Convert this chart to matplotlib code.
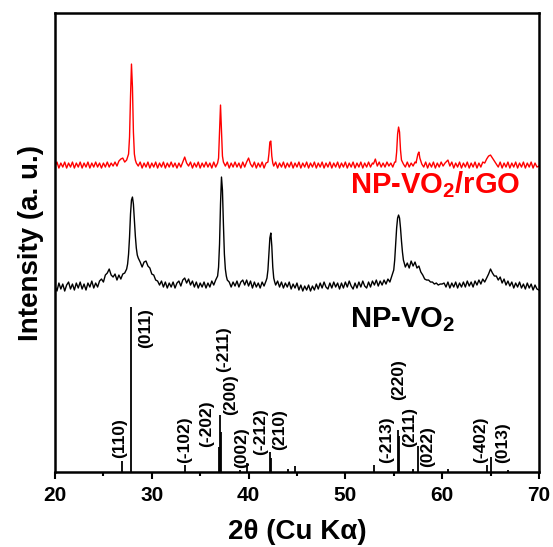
import numpy as np
import matplotlib
matplotlib.use("Agg")
import matplotlib.pyplot as plt
from matplotlib.ticker import MultipleLocator

plt.rcParams.update({
    'font.family': ['Liberation Sans', 'DejaVu Sans'],
    'font.weight': 'bold',
    'mathtext.fontset': 'custom',
    'mathtext.rm': 'Liberation Sans:bold',
    'mathtext.it': 'Liberation Sans:bold',
    'mathtext.bf': 'Liberation Sans:bold',
})

# NP-VO2 pattern (black), offset already included
black_2theta = [
    20.0, 20.2, 20.4, 20.6, 20.8, 21.0, 21.2, 21.4, 21.6, 21.8, 22.0, 22.2, 22.4, 22.6, 22.8,
    23.0, 23.2, 23.4, 23.6, 23.8, 24.0, 24.2, 24.4, 24.6, 24.8, 25.0, 25.2, 25.4, 25.6, 25.8,
    26.0, 26.2, 26.4, 26.6, 26.8, 27.0, 27.2, 27.4, 27.5, 27.6, 27.7, 27.8, 27.9, 28.0, 28.1,
    28.2, 28.3, 28.4, 28.5, 28.6, 28.8, 29.0, 29.2, 29.4, 29.6, 29.8, 30.0, 30.2, 30.4, 30.6,
    30.8, 31.0, 31.2, 31.4, 31.6, 31.8, 32.0, 32.2, 32.4, 32.6, 32.8, 33.0, 33.2, 33.4, 33.6,
    33.8, 34.0, 34.2, 34.4, 34.6, 34.8, 35.0, 35.2, 35.4, 35.6, 35.8, 36.0, 36.2, 36.4, 36.6,
    36.8, 36.9, 37.0, 37.1, 37.2, 37.3, 37.4, 37.5, 37.6, 37.7, 37.8, 38.0, 38.2, 38.4, 38.6,
    38.8, 39.0, 39.2, 39.4, 39.6, 39.8, 40.0, 40.2, 40.4, 40.6, 40.8, 41.0, 41.2, 41.4, 41.6,
    41.8, 41.9, 42.0, 42.1, 42.2, 42.3, 42.4, 42.5, 42.6, 42.7, 42.8, 43.0, 43.2, 43.4, 43.6,
    43.8, 44.0, 44.2, 44.4, 44.6, 44.8, 45.0, 45.2, 45.4, 45.6, 45.8, 46.0, 46.2, 46.4, 46.6,
    46.8, 47.0, 47.2, 47.4, 47.6, 47.8, 48.0, 48.2, 48.4, 48.6, 48.8, 49.0, 49.2, 49.4, 49.6,
    49.8, 50.0, 50.2, 50.4, 50.6, 50.8, 51.0, 51.2, 51.4, 51.6, 51.8, 52.0, 52.2, 52.4, 52.6,
    52.8, 53.0, 53.2, 53.4, 53.6, 53.8, 54.0, 54.2, 54.4, 54.6, 54.8, 55.0, 55.1, 55.2, 55.3,
    55.4, 55.5, 55.6, 55.7, 55.8, 55.9, 56.0, 56.2, 56.4, 56.6, 56.8, 57.0, 57.2, 57.4, 57.6,
    57.8, 58.0, 58.2, 58.4, 58.6, 58.8, 59.0, 59.2, 59.4, 59.6, 59.8, 60.0, 60.2, 60.4, 60.6,
    60.8, 61.0, 61.2, 61.4, 61.6, 61.8, 62.0, 62.2, 62.4, 62.6, 62.8, 63.0, 63.2, 63.4, 63.6,
    63.8, 64.0, 64.2, 64.4, 64.6, 64.8, 65.0, 65.1, 65.2, 65.4, 65.6, 65.8, 66.0, 66.2, 66.4,
    66.6, 66.8, 67.0, 67.2, 67.4, 67.6, 67.8, 68.0, 68.2, 68.4, 68.6, 68.8, 69.0, 69.2, 69.4,
    69.6, 69.8, 70.0,
]
black_int = [
    186, 181, 189, 183, 188, 181, 187, 190, 183, 188, 182, 189, 184, 190, 183,
    188, 182, 189, 185, 191, 184, 189, 185, 191, 193, 190, 197, 199, 203, 197,
    195, 198, 192, 197, 193, 198, 199, 203, 208, 218, 235, 258, 272, 275, 268,
    252, 236, 224, 217, 214, 210, 205, 210, 211, 206, 204, 198, 197, 192, 191,
    187, 191, 185, 190, 184, 189, 185, 190, 184, 189, 191, 186, 192, 194, 189,
    193, 187, 191, 185, 190, 184, 189, 185, 190, 184, 189, 185, 191, 187, 192,
    196, 205, 228, 268, 295, 282, 248, 218, 203, 196, 192, 190, 185, 190, 186,
    191, 185, 190, 192, 187, 192, 186, 191, 184, 190, 185, 189, 184, 190, 186,
    191, 194, 202, 218, 234, 239, 226, 205, 194, 190, 187, 191, 185, 190, 184,
    189, 185, 190, 183, 188, 184, 189, 182, 187, 181, 186, 182, 187, 181, 186,
    182, 188, 183, 189, 184, 190, 185, 183, 189, 184, 190, 185, 189, 183, 189,
    184, 190, 185, 191, 186, 183, 189, 184, 190, 185, 191, 186, 184, 190, 185,
    191, 187, 192, 186, 191, 187, 192, 188, 193, 190, 196, 202, 212, 228, 244,
    254, 257, 254, 244, 231, 220, 212, 205, 209, 204, 211, 206, 210, 204, 206,
    200, 197, 193, 192, 192, 190, 190, 188, 189, 187, 188, 188, 189, 185, 190,
    184, 189, 185, 190, 184, 189, 185, 190, 185, 191, 186, 190, 185, 191, 187,
    192, 188, 193, 190, 194, 198, 203, 201, 199, 196, 196, 192, 195, 189, 193,
    187, 191, 186, 190, 184, 189, 185, 190, 184, 188, 183, 189, 184, 188, 182,
    187, 183, 182,
]

# NP-VO2/rGO pattern (red), offset already included
red_2theta = [
    20.0, 20.2, 20.4, 20.6, 20.8, 21.0, 21.2, 21.4, 21.6, 21.8, 22.0, 22.2, 22.4, 22.6, 22.8,
    23.0, 23.2, 23.4, 23.6, 23.8, 24.0, 24.2, 24.4, 24.6, 24.8, 25.0, 25.2, 25.4, 25.6, 25.8,
    26.0, 26.2, 26.4, 26.6, 26.8, 27.0, 27.2, 27.4, 27.6, 27.7, 27.8, 27.9, 28.0, 28.1, 28.2,
    28.3, 28.4, 28.6, 28.8, 29.0, 29.2, 29.4, 29.6, 29.8, 30.0, 30.2, 30.4, 30.6, 30.8, 31.0,
    31.2, 31.4, 31.6, 31.8, 32.0, 32.2, 32.4, 32.6, 32.8, 33.0, 33.2, 33.4, 33.6, 33.8, 34.0,
    34.2, 34.4, 34.6, 34.8, 35.0, 35.2, 35.4, 35.6, 35.8, 36.0, 36.2, 36.4, 36.6, 36.8, 36.9,
    37.0, 37.1, 37.2, 37.3, 37.4, 37.6, 37.8, 38.0, 38.2, 38.4, 38.6, 38.8, 39.0, 39.2, 39.4,
    39.6, 39.8, 40.0, 40.2, 40.4, 40.6, 40.8, 41.0, 41.2, 41.4, 41.6, 41.8, 42.0, 42.1, 42.2,
    42.3, 42.4, 42.5, 42.6, 42.8, 43.0, 43.2, 43.4, 43.6, 43.8, 44.0, 44.2, 44.4, 44.6, 44.8,
    45.0, 45.2, 45.4, 45.6, 45.8, 46.0, 46.2, 46.4, 46.6, 46.8, 47.0, 47.2, 47.4, 47.6, 47.8,
    48.0, 48.2, 48.4, 48.6, 48.8, 49.0, 49.2, 49.4, 49.6, 49.8, 50.0, 50.2, 50.4, 50.6, 50.8,
    51.0, 51.2, 51.4, 51.6, 51.8, 52.0, 52.2, 52.4, 52.6, 52.8, 52.9, 53.1, 53.3, 53.5, 53.7,
    53.9, 54.1, 54.3, 54.5, 54.7, 54.9, 55.1, 55.2, 55.3, 55.4, 55.5, 55.6, 55.7, 55.8, 56.0,
    56.2, 56.4, 56.6, 56.8, 57.0, 57.2, 57.3, 57.5, 57.6, 57.7, 57.9, 58.1, 58.3, 58.5, 58.7,
    58.9, 59.1, 59.3, 59.5, 59.7, 59.9, 60.1, 60.3, 60.6, 60.8, 61.0, 61.2, 61.4, 61.6, 61.8,
    62.0, 62.2, 62.4, 62.6, 62.8, 63.0, 63.2, 63.4, 63.6, 63.8, 64.0, 64.2, 64.4, 64.6, 64.8,
    65.0, 65.2, 65.4, 65.6, 65.8, 66.0, 66.2, 66.4, 66.6, 66.8, 67.0, 67.2, 67.4, 67.6, 67.8,
    68.0, 68.2, 68.4, 68.6, 68.8, 69.0, 69.2, 69.4, 69.6, 69.8, 70.0,
]
red_int = [
    306, 310, 304, 309, 305, 310, 304, 309, 305, 310, 304, 309, 305, 310, 304,
    309, 305, 310, 304, 309, 305, 310, 305, 309, 304, 309, 305, 310, 305, 309,
    306, 310, 306, 311, 313, 314, 310, 312, 318, 335, 375, 408, 385, 340, 318,
    312, 309, 306, 310, 304, 309, 305, 310, 304, 309, 305, 310, 304, 309, 305,
    310, 304, 309, 305, 310, 305, 309, 304, 309, 305, 310, 315, 309, 306, 310,
    304, 309, 305, 310, 304, 309, 305, 310, 305, 309, 304, 310, 305, 309, 314,
    340, 367, 342, 316, 310, 306, 310, 304, 309, 305, 310, 305, 309, 304, 310,
    305, 310, 314, 308, 305, 310, 304, 309, 305, 310, 304, 309, 310, 318, 330,
    331, 316, 309, 306, 310, 304, 309, 305, 310, 304, 309, 305, 310, 304, 309,
    305, 310, 304, 309, 305, 310, 304, 309, 305, 310, 304, 309, 305, 310, 304,
    309, 305, 310, 304, 309, 305, 310, 304, 309, 305, 310, 304, 309, 305, 310,
    304, 309, 305, 310, 304, 309, 305, 310, 305, 309, 308, 313, 306, 310, 305,
    309, 305, 310, 306, 309, 305, 310, 310, 320, 338, 345, 340, 322, 312, 308,
    305, 310, 305, 309, 306, 310, 309, 318, 320, 314, 308, 305, 310, 304, 309,
    305, 310, 304, 309, 305, 310, 306, 309, 312, 306, 310, 304, 309, 305, 310,
    304, 309, 305, 310, 304, 309, 305, 310, 304, 309, 305, 310, 309, 313, 316,
    317, 314, 311, 308, 305, 310, 304, 309, 305, 310, 304, 309, 305, 310, 304,
    309, 305, 310, 304, 309, 305, 310, 304, 309, 305, 306,
]

# reference stick pattern
stick_2theta = [26.9, 27.85, 33.4, 36.95, 37.05, 37.2, 39.1, 39.8, 42.2, 42.3, 44.1, 44.8,
                52.96, 55.4, 55.55, 57.0, 57.53, 60.6, 64.6, 65.0, 66.8]
stick_height = [11, 165, 7, 25, 57, 40, 2, 9, 20, 14, 3, 6,
                7, 42, 36, 3, 26, 3, 7, 15, 2]

# Miller index labels: (text, x position, y of label bottom)
hkl_text = ["(110)", "(011)", "(-102)", "(-202)", "(200)", "(-211)", "(002)", "(-212)",
            "(210)", "(-213)", "(220)", "(211)", "(022)", "(-402)", "(013)"]
hkl_x = [26.7, 29.4, 33.4, 35.7, 38.1, 37.4, 39.3, 41.25, 43.2, 54.26, 55.47, 56.67,
         58.46, 63.97, 66.3]
hkl_y = [14, 124, 9, 25, 57, 100, 4, 17, 22, 9, 72, 25, 5, 9, 9]

fig = plt.figure(figsize=(5.53, 5.47), dpi=100)
ax = fig.add_axes([0.0995, 0.1371, 0.875, 0.839])

ax.plot(black_2theta, black_int, color="black", lw=1.0)
ax.plot(red_2theta, red_int, color="red", lw=1.0)
ax.vlines(stick_2theta, 0, stick_height, color="black", lw=1.3)

for t, x, y in zip(hkl_text, hkl_x, hkl_y):
    ax.text(x, y, t, rotation=90, ha="center", va="bottom", fontsize=12.5, fontweight="bold")

ax.text(50.5, 279, r"NP-VO$_2$/rGO", color="red", fontsize=21, fontweight="bold")
ax.text(50.5, 145, r"NP-VO$_2$", color="black", fontsize=21, fontweight="bold")

ax.set_xlim(20, 70)
ax.set_ylim(0, 459)
ax.set_yticks([])
ax.xaxis.set_major_locator(MultipleLocator(10))
ax.xaxis.set_minor_locator(MultipleLocator(5))
ax.tick_params(axis="x", which="major", direction="out", length=5, width=1.5, labelsize=15, pad=5)
ax.tick_params(axis="x", which="minor", direction="out", length=3, width=1.5)
for lab in ax.get_xticklabels():
    lab.set_fontweight("bold")
for s in ax.spines.values():
    s.set_linewidth(1.8)

ax.set_xlabel("2θ (Cu Kα)", fontsize=20, fontweight="bold", labelpad=10)
ax.set_ylabel("Intensity (a. u.)", fontsize=20, fontweight="bold", labelpad=8)

fig.savefig("out.png", dpi=100)
